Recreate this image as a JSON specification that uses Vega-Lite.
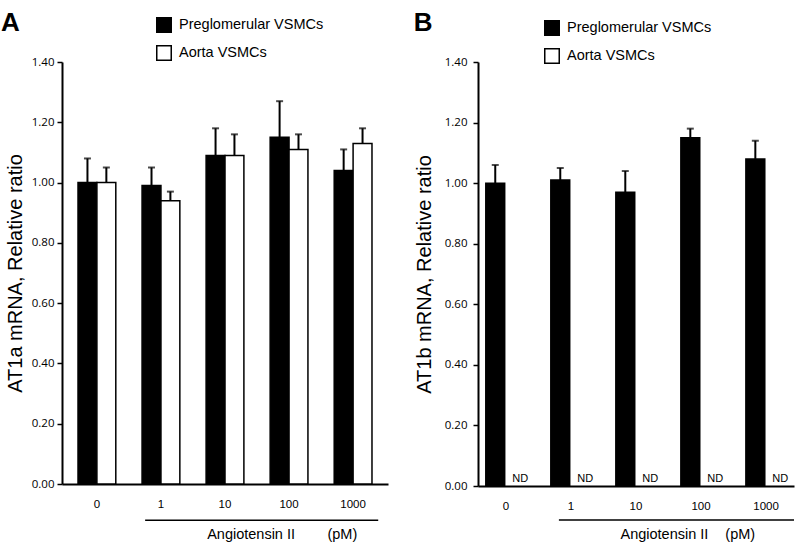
{
  "$schema": "https://vega.github.io/schema/vega-lite/v6.json",
  "background": "white",
  "padding": {"left": 1, "top": 9, "right": 0, "bottom": 0},
  "spacing": 25,
  "config": {
    "view": {"stroke": null},
    "font": "Liberation Sans",
    "axisY": {
      "domainColor": "black", "domainWidth": 2, "tickColor": "black", "tickWidth": 1.5, "tickSize": 5,
      "labelFont": "Open Sans", "labelFontSize": 11.5, "labelColor": "black", "labelPadding": 3,
      "grid": false, "titleFont": "Liberation Sans", "titleFontSize": 20, "titleFontWeight": "normal",
      "titleColor": "black", "titlePadding": 6
    },
    "axisX": {
      "domainColor": "black", "domainWidth": 2, "ticks": false, "labelFontSize": 11.5,
      "labelColor": "black", "labelPadding": 14, "labelAngle": 0, "grid": false
    },
    "legend": {
      "orient": "none", "symbolType": "square", "symbolSize": 210, "symbolStrokeColor": "black",
      "symbolStrokeWidth": 1.5, "labelFontSize": 14.5, "labelColor": "black", "labelFont": "Liberation Sans",
      "rowPadding": 6, "labelOffset": 7
    }
  },
  "datasets": {
    "bars": [
      {"panel": "A", "dose": "0", "cell": "Preglomerular VSMCs", "mean": 1.00, "upper": 1.08},
      {"panel": "A", "dose": "0", "cell": "Aorta VSMCs", "mean": 1.00, "upper": 1.05},
      {"panel": "A", "dose": "1", "cell": "Preglomerular VSMCs", "mean": 0.99, "upper": 1.05},
      {"panel": "A", "dose": "1", "cell": "Aorta VSMCs", "mean": 0.94, "upper": 0.97},
      {"panel": "A", "dose": "10", "cell": "Preglomerular VSMCs", "mean": 1.09, "upper": 1.18},
      {"panel": "A", "dose": "10", "cell": "Aorta VSMCs", "mean": 1.09, "upper": 1.16},
      {"panel": "A", "dose": "100", "cell": "Preglomerular VSMCs", "mean": 1.15, "upper": 1.27},
      {"panel": "A", "dose": "100", "cell": "Aorta VSMCs", "mean": 1.11, "upper": 1.16},
      {"panel": "A", "dose": "1000", "cell": "Preglomerular VSMCs", "mean": 1.04, "upper": 1.11},
      {"panel": "A", "dose": "1000", "cell": "Aorta VSMCs", "mean": 1.13, "upper": 1.18},
      {"panel": "B", "dose": "0", "cell": "Preglomerular VSMCs", "mean": 1.00, "upper": 1.06, "note": ""},
      {"panel": "B", "dose": "0", "cell": "Aorta VSMCs", "mean": 0, "upper": 0, "note": "ND"},
      {"panel": "B", "dose": "1", "cell": "Preglomerular VSMCs", "mean": 1.01, "upper": 1.05, "note": ""},
      {"panel": "B", "dose": "1", "cell": "Aorta VSMCs", "mean": 0, "upper": 0, "note": "ND"},
      {"panel": "B", "dose": "10", "cell": "Preglomerular VSMCs", "mean": 0.97, "upper": 1.04, "note": ""},
      {"panel": "B", "dose": "10", "cell": "Aorta VSMCs", "mean": 0, "upper": 0, "note": "ND"},
      {"panel": "B", "dose": "100", "cell": "Preglomerular VSMCs", "mean": 1.15, "upper": 1.18, "note": ""},
      {"panel": "B", "dose": "100", "cell": "Aorta VSMCs", "mean": 0, "upper": 0, "note": "ND"},
      {"panel": "B", "dose": "1000", "cell": "Preglomerular VSMCs", "mean": 1.08, "upper": 1.14, "note": ""},
      {"panel": "B", "dose": "1000", "cell": "Aorta VSMCs", "mean": 0, "upper": 0, "note": "ND"}
    ],
    "annotA": [
      {"label": "Angiotensin II", "pos": 0.58, "level": -0.168},
      {"label": "(pM)", "pos": 0.86, "level": -0.168}
    ],
    "annotB": [
      {"label": "Angiotensin II", "pos": 0.59, "level": -0.162},
      {"label": "(pM)", "pos": 0.83, "level": -0.162}
    ]
  },
  "resolve": {"scale": {"fill": "independent"}, "legend": {"fill": "independent"}},
  "hconcat": [
    {
      "width": 326,
      "height": 422,
      "resolve": {"scale": {"x": "independent"}},
      "layer": [
        {
          "data": {"name": "bars"},
          "transform": [{"filter": "datum.panel === 'A'"}],
          "encoding": {
            "x": {"field": "dose", "type": "nominal", "sort": ["0", "1", "10", "100", "1000"],
                  "scale": {"paddingInner": 0.41, "paddingOuter": 0.25}, "axis": {"title": null}},
            "xOffset": {"field": "cell", "type": "nominal", "scale": {"domain": ["Preglomerular VSMCs", "Aorta VSMCs"]}},
            "y": {"field": "mean", "type": "quantitative", "scale": {"domain": [0, 1.4]},
                  "axis": {"title": "AT1a mRNA, Relative ratio", "values": [0, 0.2, 0.4, 0.6, 0.8, 1.0, 1.2, 1.4], "format": ".2f"}}
          },
          "layer": [
            {
              "mark": {"type": "bar", "stroke": "black", "strokeWidth": 1.5},
              "encoding": {
                "fill": {"field": "cell", "type": "nominal",
                         "scale": {"domain": ["Preglomerular VSMCs", "Aorta VSMCs"], "range": ["black", "white"]},
                         "legend": {"title": null, "legendX": 94, "legendY": -45}}
              }
            },
            {
              "mark": {"type": "rule", "color": "black", "strokeWidth": 2},
              "encoding": {"y2": {"field": "upper"}}
            },
            {
              "mark": {"type": "tick", "color": "black", "thickness": 2, "size": 7},
              "encoding": {"y": {"field": "upper", "type": "quantitative"}}
            }
          ]
        },
        {
          "data": {"values": [{"start": 0.255, "end": 0.97}]},
          "mark": {"type": "rule", "color": "black", "strokeWidth": 1.5},
          "encoding": {
            "x": {"field": "start", "type": "quantitative", "scale": {"domain": [0, 1]}, "axis": null},
            "x2": {"field": "end"},
            "y": {"datum": -0.12, "type": "quantitative"}
          }
        },
        {
          "data": {"name": "annotA"},
          "mark": {"type": "text", "fontSize": 14.5, "color": "black", "baseline": "middle"},
          "encoding": {
            "x": {"field": "pos", "type": "quantitative", "scale": {"domain": [0, 1]}, "axis": null},
            "y": {"field": "level", "type": "quantitative"},
            "text": {"field": "label"}
          }
        },
        {
          "data": {"values": [{"letter": "A"}]},
          "mark": {"type": "text", "fontSize": 26, "fontWeight": "bold", "color": "black", "baseline": "alphabetic", "align": "center"},
          "encoding": {
            "x": {"datum": -0.158, "type": "quantitative", "scale": {"domain": [0, 1]}, "axis": null},
            "y": {"datum": 1.503, "type": "quantitative"},
            "text": {"field": "letter"}
          }
        }
      ]
    },
    {
      "width": 316,
      "height": 424,
      "resolve": {"scale": {"x": "independent"}},
      "layer": [
        {
          "data": {"name": "bars"},
          "transform": [{"filter": "datum.panel === 'B'"}],
          "encoding": {
            "x": {"field": "dose", "type": "nominal", "sort": ["0", "1", "10", "100", "1000"],
                  "scale": {"paddingInner": 0.38, "paddingOuter": 0.12}, "axis": {"title": null}},
            "xOffset": {"field": "cell", "type": "nominal", "scale": {"domain": ["Preglomerular VSMCs", "Aorta VSMCs"]}},
            "y": {"field": "mean", "type": "quantitative", "scale": {"domain": [0, 1.4]},
                  "axis": {"title": "AT1b mRNA, Relative ratio", "values": [0, 0.2, 0.4, 0.6, 0.8, 1.0, 1.2, 1.4], "format": ".2f", "labelPadding": 6, "titlePadding": 10}}
          },
          "layer": [
            {
              "transform": [{"filter": "datum.note !== 'ND'"}],
              "mark": {"type": "bar", "stroke": "black", "strokeWidth": 1.5},
              "encoding": {
                "fill": {"field": "cell", "type": "nominal",
                         "scale": {"domain": ["Preglomerular VSMCs", "Aorta VSMCs"], "range": ["black", "white"]},
                         "legend": {"title": null, "legendX": 66, "legendY": -42}}
              }
            },
            {
              "transform": [{"filter": "datum.note !== 'ND'"}],
              "mark": {"type": "rule", "color": "black", "strokeWidth": 2},
              "encoding": {"y2": {"field": "upper"}}
            },
            {
              "transform": [{"filter": "datum.note !== 'ND'"}],
              "mark": {"type": "tick", "color": "black", "thickness": 2, "size": 7},
              "encoding": {"y": {"field": "upper", "type": "quantitative"}}
            },
            {
              "transform": [{"filter": "datum.note === 'ND'"}],
              "mark": {"type": "text", "fontSize": 11, "color": "black", "baseline": "bottom", "dy": -2, "dx": 6},
              "encoding": {
                "text": {"field": "note"}
              }
            }
          ]
        },
        {
          "data": {"values": [{"start": 0.256, "end": 1.0}]},
          "mark": {"type": "rule", "color": "black", "strokeWidth": 1.5},
          "encoding": {
            "x": {"field": "start", "type": "quantitative", "scale": {"domain": [0, 1]}, "axis": null},
            "x2": {"field": "end"},
            "y": {"datum": -0.112, "type": "quantitative"}
          }
        },
        {
          "data": {"name": "annotB"},
          "mark": {"type": "text", "fontSize": 14.5, "color": "black", "baseline": "middle"},
          "encoding": {
            "x": {"field": "pos", "type": "quantitative", "scale": {"domain": [0, 1]}, "axis": null},
            "y": {"field": "level", "type": "quantitative"},
            "text": {"field": "label"}
          }
        },
        {
          "data": {"values": [{"letter": "B"}]},
          "mark": {"type": "text", "fontSize": 26, "fontWeight": "bold", "color": "black", "baseline": "alphabetic", "align": "center"},
          "encoding": {
            "x": {"datum": -0.174, "type": "quantitative", "scale": {"domain": [0, 1]}, "axis": null},
            "y": {"datum": 1.503, "type": "quantitative"},
            "text": {"field": "letter"}
          }
        }
      ]
    }
  ]
}
